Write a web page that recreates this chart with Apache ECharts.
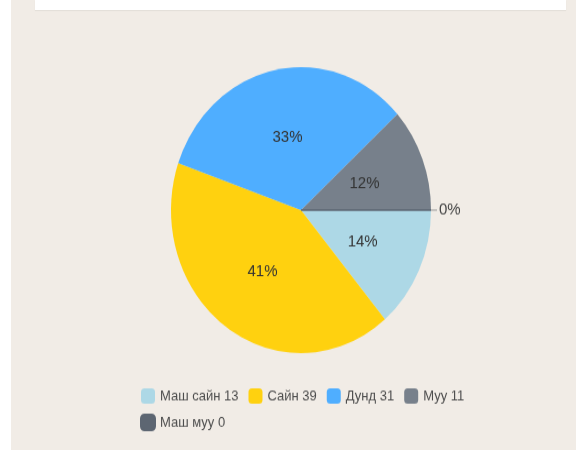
<!DOCTYPE html>
<html><head><meta charset="utf-8">
<script src="https://cdn.jsdelivr.net/npm/echarts@6/dist/echarts.min.js"></script>
<style>
html,body{margin:0;padding:0;background:#fff;width:576px;height:450px;overflow:hidden;}
#bg{position:absolute;left:11px;top:0;width:565px;height:450px;background:#F1ECE6;}
#box{position:absolute;left:35px;top:0;width:531px;height:10px;background:#fff;box-shadow:0 1px 1px rgba(0,0,0,0.05);}
#chart{position:absolute;left:0;top:0;width:576px;height:409px;transform:scaleY(1.1);transform-origin:0 0;}
</style></head>
<body>
<div id="bg"></div><div id="box"></div>
<div id="chart"></div>
<script>
const categories = ['Маш сайн', 'Сайн', 'Дунд', 'Муу', 'Маш муу'];
const values = [13, 39, 31, 11, 0];
const colors = ['#ADD8E6', '#FFD10F', '#4FAEFF', '#77808B', '#5D6672'];

const chart = echarts.init(document.getElementById('chart'), null, {renderer: 'canvas'});
const data = categories.map((c, i) => {
  const d = {name: c, value: values[i], itemStyle: {color: colors[i]}};
  if (values[i] === 0) {
    d.label = {position: 'outside', fontSize: 15, color: '#444', distanceToLabelLine: 2};
    d.labelLine = {show: true, length: 3, length2: 3, lineStyle: {color: '#999', width: 1}};
    d.itemStyle.borderColor = colors[i];
    d.itemStyle.borderWidth = 1;
  }
  return d;
});
chart.setOption({
  animation: false,
  textStyle: {fontFamily: '"Liberation Sans", Arial, sans-serif'},
  legend: {
    left: 135, top: 348, width: 335,
    itemWidth: 14, itemHeight: 14, itemGap: 10,
    icon: 'roundRect',
    textStyle: {fontSize: 13, color: '#4d4d4d'},
    formatter: function (name) {
      const i = categories.indexOf(name);
      return name + ' ' + values[i];
    },
    data: categories
  },
  series: [{
    type: 'pie',
    center: [301, 191],
    radius: [0, 130],
    startAngle: 0,
    clockwise: true,
    avoidLabelOverlap: false,
    label: {
      position: 'inside', fontSize: 15, color: '#333',
      formatter: function (p) { return Math.round(p.percent) + '%'; }
    },
    labelLine: {show: false},
    emphasis: {disabled: true},
    data: data
  }]
});
</script>
</body></html>
